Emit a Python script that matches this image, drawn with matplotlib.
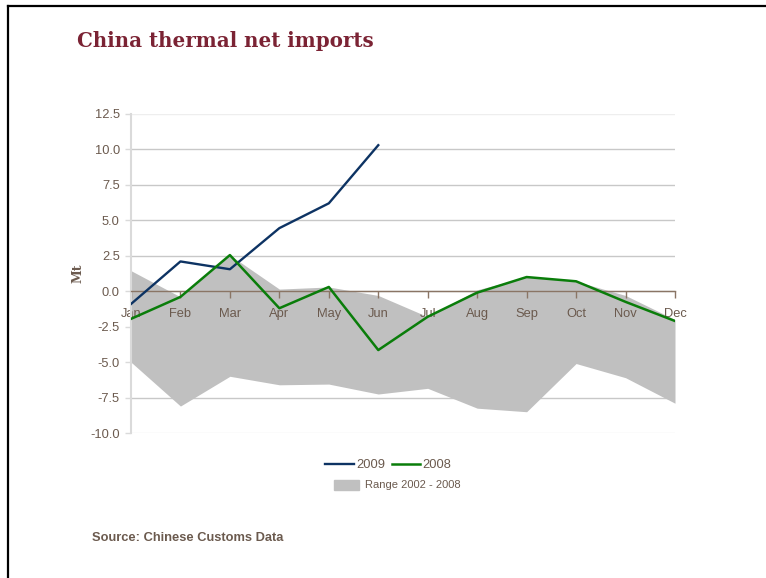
import numpy as np
import matplotlib.pyplot as plt
from matplotlib.lines import Line2D
from matplotlib.patches import Patch

months = ["Jan", "Feb", "Mar", "Apr", "May", "Jun", "Jul", "Aug", "Sep", "Oct", "Nov", "Dec"]
net_2009 = [-0.9, 2.1, 1.55, 4.45, 6.2, 10.3]
net_2008 = [-1.95, -0.4, 2.55, -1.2, 0.3, -4.15, -1.8, -0.1, 1.0, 0.7, -0.75, -2.1]
range_hi = [1.45, -0.4, 2.55, 0.15, 0.3, -0.3, -1.8, 0.1, 1.0, 0.7, -0.3, -2.0]
range_lo = [-5.0, -8.1, -6.0, -6.6, -6.55, -7.25, -6.85, -8.25, -8.5, -5.1, -6.1, -7.9]
yticks = [12.5, 10.0, 7.5, 5.0, 2.5, 0.0, -2.5, -5.0, -7.5, -10.0]

text_col = "#6b5a4e"
axis_col = "#8a7565"
blue = "#0d3363"
green = "#0a7d0a"
fill_col = "#c0c0c0"

fig = plt.figure(figsize=(7.66, 5.78), dpi=100)
ax = fig.add_axes([131 / 766, 1 - 433 / 578, 544 / 766, 319 / 578])

x = np.arange(len(months))
ax.fill_between(x, range_lo, range_hi, color=fill_col, linewidth=0, zorder=1)
ax.plot(x[:len(net_2009)], net_2009, color=blue, linewidth=1.7, zorder=4)
ax.plot(x, net_2008, color=green, linewidth=1.8, zorder=4)

ax.set_xlim(0, 11)
ax.set_ylim(-10, 12.5)

# gridlines
for v in yticks:
    c = "#eeeeee" if v in (12.5, -10.0) else "#c8c8c8"
    ax.axhline(v, color=c, linewidth=1, zorder=0)

ax.set_yticks(yticks)
ax.set_yticklabels([f"{v:.1f}" for v in yticks])
ax.set_xticks(x)
ax.set_xticklabels(months)

for s in ["top", "right"]:
    ax.spines[s].set_visible(False)
ax.spines["bottom"].set_position(("data", 0))
ax.spines["bottom"].set_color(axis_col)
ax.spines["bottom"].set_linewidth(1)
ax.spines["left"].set_color("#dadada")
ax.spines["left"].set_linewidth(1.5)

ax.tick_params(axis="x", colors=axis_col, length=5, width=1, pad=7, labelsize=9.3, labelcolor=text_col)
ax.tick_params(axis="y", colors="#dadada", length=4, width=1, pad=4, labelsize=9.3, labelcolor=text_col)
for lab in ax.get_xticklabels() + ax.get_yticklabels():
    lab.set_family("Liberation Sans")

ax.set_ylabel("Mt", fontsize=9, fontweight="bold", family="DejaVu Serif", color=text_col, labelpad=4)

# legend
h1 = [Line2D([], [], color=blue, linewidth=1.7), Line2D([], [], color=green, linewidth=1.8)]
leg1 = fig.legend(h1, ["2009", "2008"], loc="center", bbox_to_anchor=(0.507, 1 - 465 / 578), ncol=2,
                  frameon=False, handlelength=2.2, handletextpad=0.2, columnspacing=0.5,
                  prop={"family": "Liberation Sans", "size": 9.3})
for t in leg1.get_texts():
    t.set_color(text_col)
leg2 = fig.legend([Patch(color=fill_col)], ["Range 2002 - 2008"], loc="center",
                  bbox_to_anchor=(0.519, 1 - 485 / 578), frameon=False, handlelength=2.2,
                  handleheight=1.0, handletextpad=0.6, prop={"family": "Liberation Sans", "size": 8})
for t in leg2.get_texts():
    t.set_color(text_col)

fig.text(77 / 766, 1 - 41 / 578, "China thermal net imports", fontsize=14.3, fontweight="bold",
         family="DejaVu Serif", color="#7b2334", va="center", ha="left")
fig.text(92 / 766, 1 - 538 / 578, "Source: Chinese Customs Data", fontsize=9.3, fontweight="bold",
         family="Liberation Sans", color=text_col, va="center", ha="left")

# page border
fig.add_artist(Line2D([8 / 766, 8 / 766], [0, 1 - 6 / 578], color="black", linewidth=1.6))
fig.add_artist(Line2D([8 / 766, 1], [1 - 6 / 578, 1 - 6 / 578], color="black", linewidth=1.6))

fig.savefig("out.png", dpi=100)
